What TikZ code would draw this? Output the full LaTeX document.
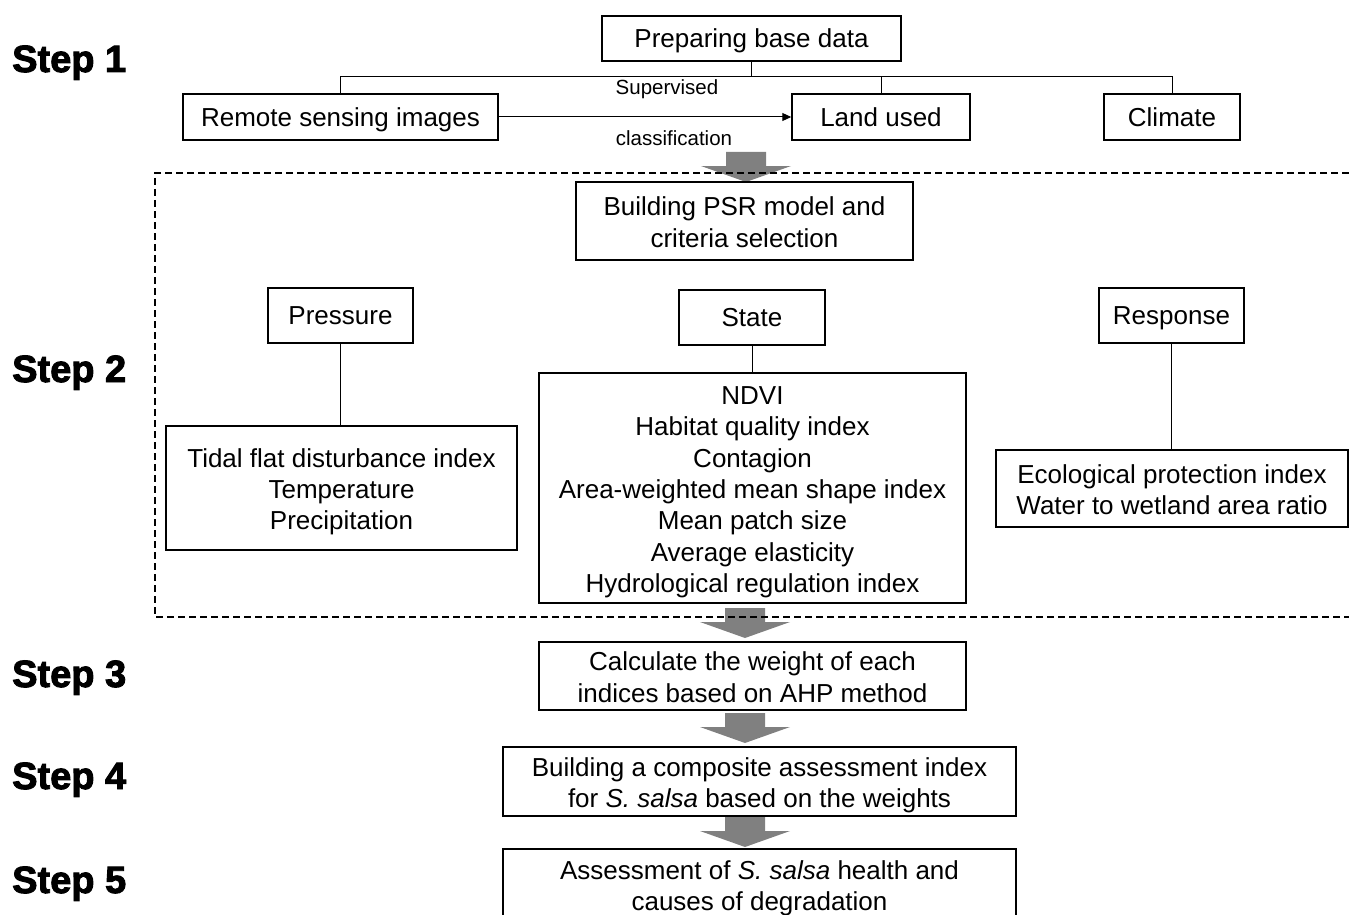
\documentclass[tikz,border=0pt]{standalone}
\usepackage{fontspec}
\setmainfont{Liberation Sans}
\newfontfamily\stepfont[FakeBold=2.5]{Liberation Sans}
\usetikzlibrary{arrows.meta}
\definecolor{arrowgray}{RGB}{128,128,128}
\newcommand\topstrut{\rule{0pt}{24.1pt}}
\newcommand\ms{\rule{0pt}{26.5pt}}
\newcommand\botstrut{\rule[-5.5pt]{0pt}{5.5pt}}
\begin{document}
\begin{tikzpicture}[x=1pt,y=-1pt,
  boxtext/.style={inner sep=0pt, align=center, font=\fontsize{26}{31.3}\selectfont,
    execute at begin node=\topstrut, execute at end node=\botstrut},
  box/.style={boxtext, draw, line width=1.5pt},
  link/.style={draw, line width=1pt},
  steplabel/.style={anchor=base west, inner sep=0pt, font=\stepfont\bfseries\fontsize{38}{42}\selectfont},
  small/.style={inner sep=0pt, font=\fontsize{20.5}{24}\selectfont},
  blockarrow/.pic={\fill[arrowgray] (-20,-30) -- (20,-30) -- (20,-16) -- (45,-16) -- (0,0) -- (-45,-16) -- (-20,-16) -- cycle;}]
\useasboundingbox (0,0) rectangle (1349,915);

% step labels
\node[steplabel] (s1) at (12,72) {Step 1};
\node[steplabel] (s2) at (12,382) {Step 2};
\node[steplabel] (s3) at (12,687) {Step 3};
\node[steplabel] (s4) at (12,789) {Step 4};
\node[steplabel] (s5) at (12,893) {Step 5};

% step 1
\node[box, minimum width=299, minimum height=45] (prep) at (751.5,38.5) {Preparing base data};
\node[box, minimum width=315, minimum height=46] (remote) at (340.5,117) {Remote sensing images};
\node[box, minimum width=178, minimum height=46] (land) at (881,117) {Land used};
\node[box, minimum width=136, minimum height=46] (climate) at (1172,117) {Climate};
\coordinate (bus) at (752,77);
\draw[link] (prep.south) -- (prep.south |- bus);
\draw[link] (remote.north) -- (remote.north |- bus) -- (climate.north |- bus) -- (climate.north);
\draw[link] (land.north) -- (land.north |- bus);
\draw[link, -{Triangle[length=9pt,width=8pt]}] (remote.east) -- (land.west);
\node[small] (sup) at (667,89) {Supervised};
\node[small] (cls) at (674,138) {classification};

% block arrows
\pic at (746,182) {blockarrow};
\pic at (745,638) {blockarrow};
\pic at (745,743) {blockarrow};
\pic at (745,847) {blockarrow};

% step 2
\draw[line width=1.2pt, dash pattern=on 7pt off 4pt] (1360,173) -- (155,173) -- (155,617) -- (1360,617);
\node[box, minimum width=337, minimum height=78] (psr) at (744.5,221) {\ms Building PSR model and\\criteria selection\botstrut};
\node[box, minimum width=145, minimum height=55] (pressure) at (340.5,315.5) {Pressure};
\node[box, minimum width=146, minimum height=55] (state) at (752,317.5) {State};
\node[box, minimum width=145, minimum height=55] (response) at (1171.5,315.5) {Response};
\node[box, minimum width=351, minimum height=124] (tidal) at (341.5,488) {\ms Tidal flat disturbance index\\Temperature\\Precipitation\botstrut};
\node[box, minimum width=427, minimum height=230] (stbig) at (752.5,488) {\ms NDVI\\Habitat quality index\\Contagion\\Area-weighted mean shape index\\Mean patch size\\Average elasticity\\Hydrological regulation index\botstrut};
\node[box, minimum width=352, minimum height=77] (eco) at (1172,488.5) {\ms Ecological protection index\\Water to wetland area ratio\botstrut};
\draw[link] (pressure.south) -- (pressure.south |- tidal.north);
\draw[link] (state.south) -- (state.south |- stbig.north);
\draw[link] (response.south) -- (response.south |- eco.north);

% steps 3-5
\node[box, minimum width=427, minimum height=68] (calc) at (752.5,676) {\ms Calculate the weight of each\\indices based on AHP method\botstrut};
\node[box, minimum width=513, minimum height=69] (comp) at (759.5,781.5) {\ms Building a composite assessment index\\for \textit{S. salsa} based on the weights\botstrut};
\node[boxtext, minimum width=513, minimum height=71] (assess) at (759.5,884.5) {\ms Assessment of \textit{S. salsa} health and\\causes of degradation\botstrut};
\draw[line width=1.5pt] ([yshift=-10pt]assess.south west) -- (assess.north west) -- (assess.north east) -- ([yshift=-10pt]assess.south east);
\end{tikzpicture}
\end{document}
